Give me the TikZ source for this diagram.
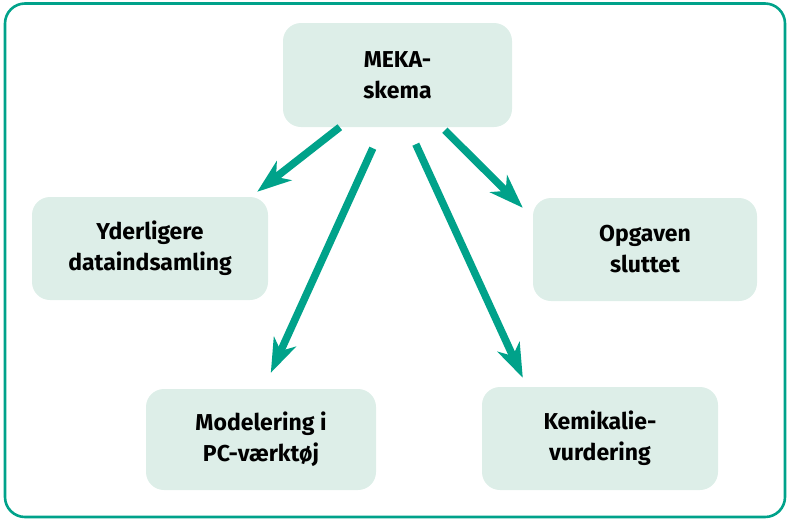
\documentclass[tikz,border=0pt]{standalone}
\usepackage{fontspec}
\setmainfont{Fira Sans}
\usetikzlibrary{arrows.meta}
\definecolor{teal}{HTML}{00A28A}
\definecolor{boxfill}{HTML}{DDEEE8}
\tikzset{
  box/.style={rectangle, rounded corners=18pt, fill=boxfill, inner sep=0pt,
    align=center, font=\fontsize{23}{31}\selectfont\bfseries},
  flow/.style={draw=teal, line width=7.5pt,
    -{Stealth[length=34pt,width=24pt,inset=10pt]}},
}
\begin{document}
\begin{tikzpicture}[x=1pt,y=-1pt]
  \useasboundingbox (0,0) rectangle (789,520);
  % outer frame
  \draw[teal, line width=2.6pt, rounded corners=20pt] (5,3.5) rectangle (785,517);

  \node[box, minimum width=229pt, minimum height=104pt] (meka)  at (397.5,75)  {MEKA-\\skema};
  \node[box, minimum width=236pt, minimum height=103pt] (yder)  at (150,248.5) {Yderligere\\dataindsamling};
  \node[box, minimum width=224pt, minimum height=103pt] (opg)   at (645,249.5) {Opgaven\\sluttet};
  \node[box, minimum width=230pt, minimum height=101pt] (model) at (261,439.5) {Modelering i\\PC-værktøj};
  \node[box, minimum width=236pt, minimum height=103pt] (kemi)  at (600,438.5) {Kemikalie-\\vurdering};

  \draw[flow] ([xshift=57pt]meka.south west) -- ([xshift=-11pt,yshift=5pt]yder.north east);
  \draw[flow] ([xshift=90pt,yshift=-21pt]meka.south west) -- ([xshift=125pt,yshift=16pt]model.north west);
  \draw[flow] ([xshift=133pt,yshift=-17pt]meka.south west) -- ([xshift=41pt,yshift=9pt]kemi.north west);
  \draw[flow] ([xshift=162pt,yshift=-3pt]meka.south west) -- ([xshift=-10pt,yshift=-10pt]opg.north west);
\end{tikzpicture}
\end{document}
